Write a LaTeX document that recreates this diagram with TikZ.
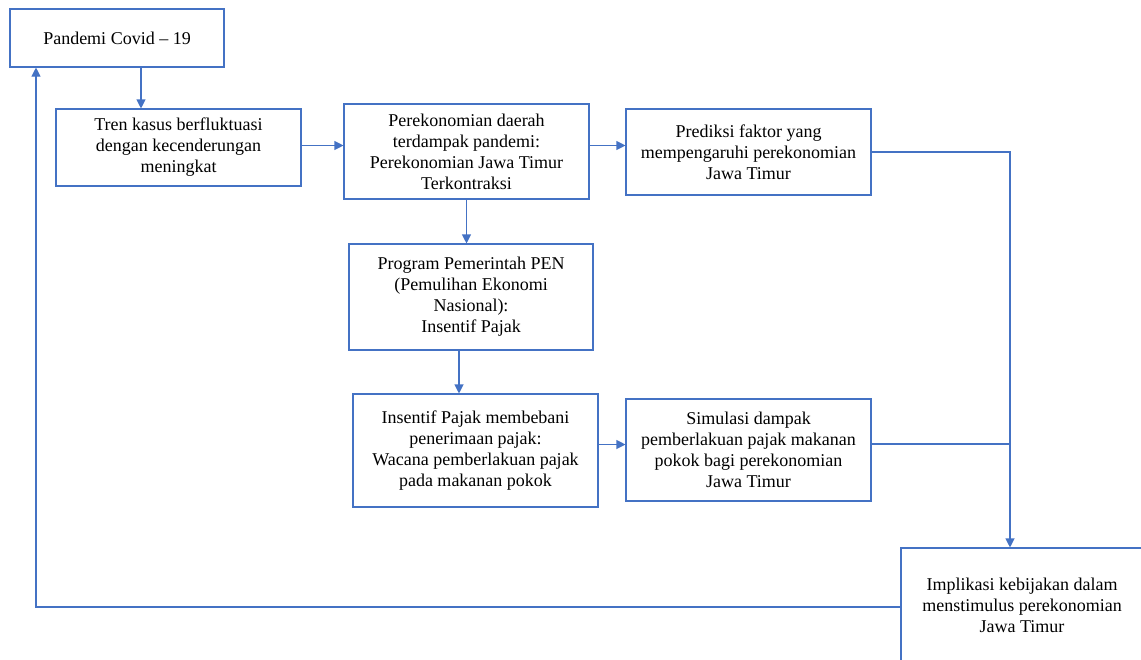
\documentclass[tikz,border=0pt]{standalone}
\usepackage{fontspec}
\setmainfont{LiberationSerif}[Extension=.ttf, UprightFont=*-Regular, BoldFont=*-Bold]
\usepackage{tikz}
\usetikzlibrary{arrows.meta}
\definecolor{officeblue}{HTML}{4472C4}
\tikzset{box/.style={draw=officeblue, line width=0.55pt, align=center, inner sep=0pt,
    minimum width=122.5pt, font=\fontsize{9}{10.5}\selectfont},
  arr/.style={draw=officeblue, line width=0.55pt, -{Triangle[length=4.5pt,width=4.5pt]}},
  wire/.style={draw=officeblue, line width=0.55pt}}

\begin{document}
\begin{tikzpicture}[x=0.5pt,y=-0.5pt]
  \clip (0,0) rectangle (1141,659);

  \node[box,minimum width=107pt,minimum height=29pt] at (117,38) (covid) {Pandemi Covid -- 19};
  \node[box,minimum height=38.5pt] at (178.5,147.5) (trend) {Tren kasus berfluktuasi\\dengan kecenderungan\\meningkat};
  \node[box,minimum height=47.5pt] at (466.5,151.5) (econ) {Perekonomian daerah\\terdampak pandemi:\\Perekonomian Jawa Timur\\Terkontraksi};
  \node[box,minimum height=43pt]   at (748.5,152) (predict) {Prediksi faktor yang\\mempengaruhi perekonomian\\Jawa Timur};
  \node[box,minimum width=122pt,minimum height=53pt] at (471,297) (pen) {Program Pemerintah PEN\\(Pemulihan Ekonomi\\Nasional):\\Insentif Pajak};
  \node[box,minimum height=56.5pt] at (475.5,450.5) (burden) {Insentif Pajak membebani\\penerimaan pajak:\\Wacana pemberlakuan pajak\\pada makanan pokok};
  \node[box,minimum height=51pt]   at (748.5,450) (sim) {Simulasi dampak\\pemberlakuan pajak makanan\\pokok bagi perekonomian\\Jawa Timur};
  \node[box,minimum width=121pt,minimum height=57pt] at (1022,605) (policy) {Implikasi kebijakan dalam\\menstimulus perekonomian\\Jawa Timur};

  \coordinate (trunk) at (1010,0);
  \coordinate (back) at (36,0);

  \draw[arr] ([xshift=12pt]covid.south) -- ([xshift=12pt]covid.south |- trend.north);
  \draw[arr] ([yshift=1pt]trend.east) -- ([yshift=1pt]trend.east -| econ.west);
  \draw[arr] ([yshift=1pt]trend.east -| econ.east) -- ([yshift=1pt]trend.east -| predict.west);
  \draw[arr] (econ.south) -- (econ.south |- pen.north);
  \draw[arr] ([xshift=-6pt]pen.south) -- ([xshift=-6pt]pen.south |- burden.north);
  \draw[arr] ([yshift=3pt]burden.east) -- ([yshift=3pt]burden.east -| sim.west);

  \draw[arr] (predict.east) -| (trunk |- policy.north);
  \draw[wire] ([yshift=3pt]sim.east) -- ([yshift=3pt]sim.east -| trunk);
  \draw[arr] ([yshift=-1pt]policy.west) -| (back |- covid.south);
\end{tikzpicture}
\end{document}
